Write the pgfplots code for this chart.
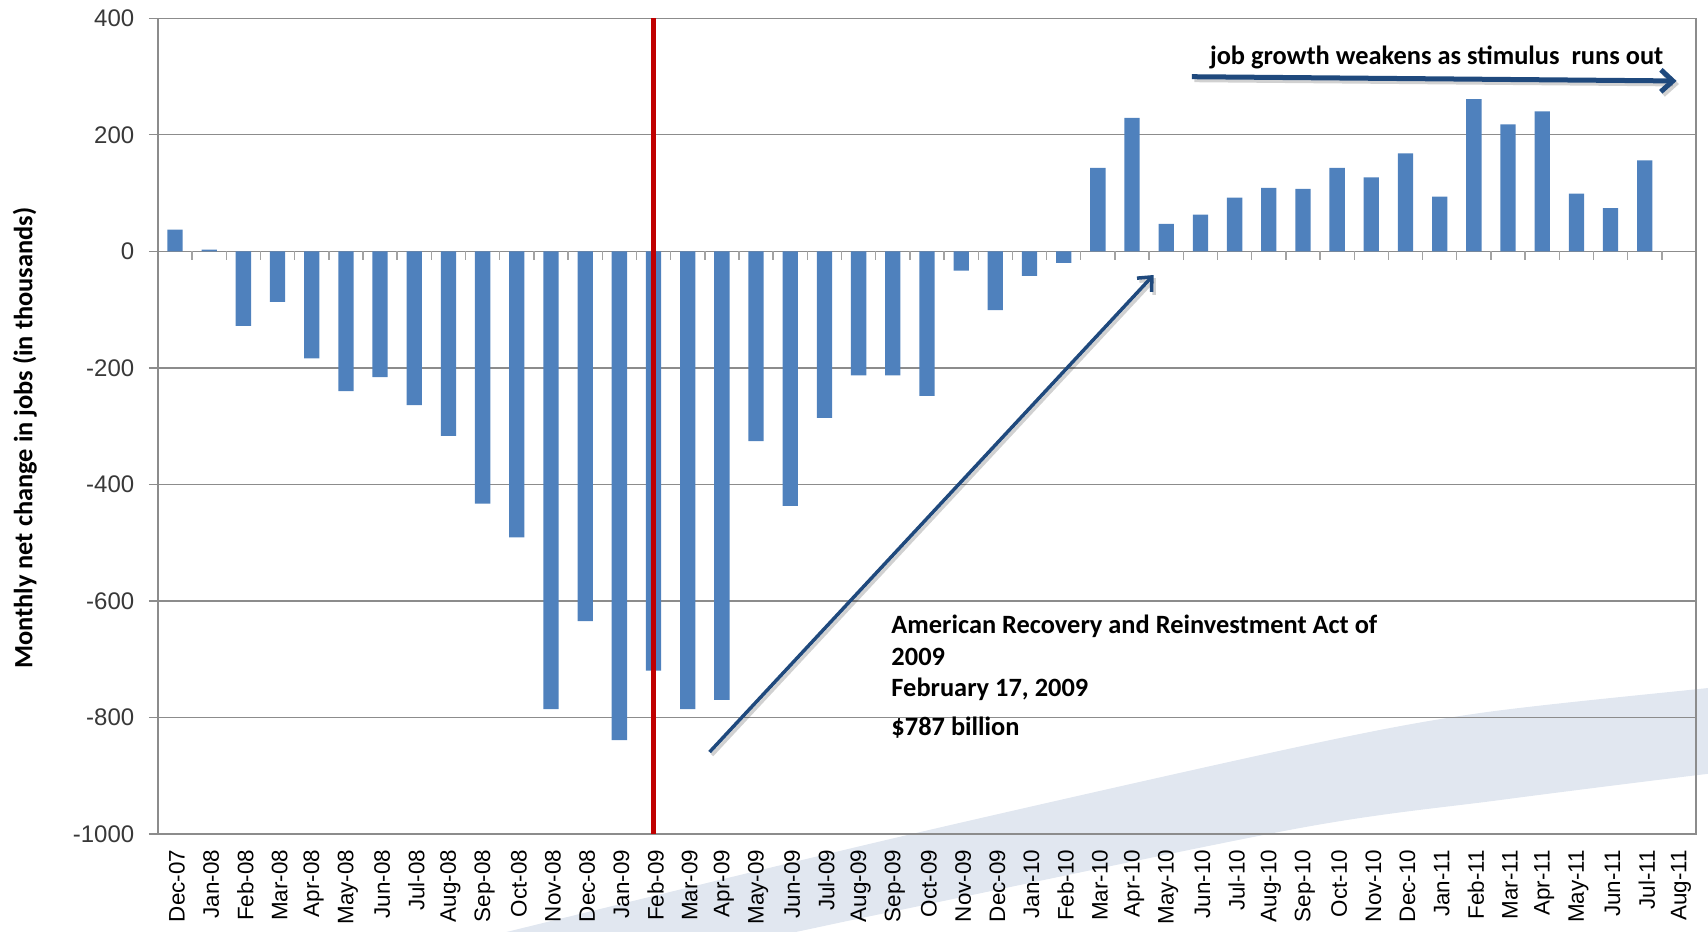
\documentclass[border=0pt]{standalone}
\usepackage{pgfplots}
\pgfplotsset{compat=1.18}
\usepackage{pgfplotstable}
\usepackage{fontspec}
\setmainfont{Liberation Sans}
\newfontfamily\calibri{Carlito}
\usetikzlibrary{arrows.meta}
\definecolor{barblue}{RGB}{79,129,189}
\definecolor{gridgray}{RGB}{140,140,140}
\definecolor{redline}{RGB}{192,0,0}
\definecolor{arrowblue}{RGB}{31,73,125}
\definecolor{swoosh}{RGB}{225,231,240}

\pgfplotstableread{
idx val
0 37
1 3
2 -128
3 -87
4 -184
5 -240
6 -216
7 -264
8 -317
9 -433
10 -491
11 -786
12 -635
13 -839
14 -720
15 -786
16 -770
17 -326
18 -437
19 -286
20 -213
21 -213
22 -248
23 -33
24 -101
25 -42
26 -20
27 143
28 229
29 47
30 63
31 92
32 109
33 107
34 143
35 127
36 168
37 94
38 261
39 218
40 240
41 99
42 74
43 156
}\jobdata

\begin{document}
\begin{tikzpicture}
\begin{axis}[
  set layers=standard,
  width=769pt, height=407.75pt, scale only axis,
  xmin=-0.5, xmax=44.5, ymin=-1000, ymax=400,
  enlargelimits=false, clip=false,
  axis line style={gridgray, line width=0.7pt},
  ymajorgrids, grid style={gridgray, line width=0.7pt},
  ytick={-1000,-800,-600,-400,-200,0,200,400},
  yticklabels={-1000,-800,-600,-400,-200,0,200,400},
  ytick pos=left, xtick pos=bottom,
  tick align=outside, major tick length=4.5pt,
  ytick style={gridgray, line width=0.7pt},
  xtick style={draw=none},
  yticklabel style={font=\fontsize{12}{14}\selectfont, text=black!78, anchor=east, xshift=-3.8pt},
  xtick={0,...,44},
  xticklabels={Dec-07,Jan-08,Feb-08,Mar-08,Apr-08,May-08,Jun-08,Jul-08,Aug-08,Sep-08,Oct-08,Nov-08,Dec-08,Jan-09,Feb-09,Mar-09,Apr-09,May-09,Jun-09,Jul-09,Aug-09,Sep-09,Oct-09,Nov-09,Dec-09,Jan-10,Feb-10,Mar-10,Apr-10,May-10,Jun-10,Jul-10,Aug-10,Sep-10,Oct-10,Nov-10,Dec-10,Jan-11,Feb-11,Mar-11,Apr-11,May-11,Jun-11,Jul-11,Aug-11},
  xticklabel style={font=\fontsize{11.2}{13}\selectfont, rotate=90, anchor=east, text=black, yshift=-1pt},
  ylabel={\calibri\bfseries\fontsize{13.2}{15}\selectfont Monthly net change in jobs (in thousands)},
  ylabel style={at={(axis description cs:-0.0865,0.485)}, anchor=center},
]
% background swoosh
\addplot[on layer=axis background, fill=swoosh, draw=none, smooth, tension=0.5, forget plot] coordinates {
 (6,-1225) (9.80,-1167) (21.21,-1005) (32.91,-850) (38.18,-792.6) (44.85,-749.7) (47,-737)
 (47,-885) (44.85,-897) (38.76,-942) (32.91,-990) (21.21,-1130.8) (18.28,-1167) (13.6,-1225)
} -- cycle;

\addplot[ybar, bar width=7.65pt, fill=barblue, draw=none, forget plot] table[x=idx, y=val] {\jobdata};

\addplot[redline, line width=2.5pt, forget plot] coordinates {(14,-1000) (14,400)};

% category tick marks on the zero line
\pgfplotsinvokeforeach{0.5,1.5,...,43.5}{
  \draw[gridgray!80, line width=0.7pt] (axis cs:#1,0) -- (axis cs:#1,-15);
}

% arrows with soft shadow
\draw[black, opacity=0.18, line width=1.75pt, -{Straight Barb[length=5.5pt,width=10pt]}]
  ([xshift=1.2pt,yshift=-1.5pt]axis cs:15.64,-859.6) -- ([xshift=1.2pt,yshift=-1.5pt]axis cs:28.63,-40.7);
\draw[arrowblue, line width=1.75pt, -{Straight Barb[length=5.5pt,width=10pt]}]
  (axis cs:15.64,-859.6) -- (axis cs:28.63,-40.7);

\draw[black, opacity=0.18, line width=2.5pt, -{Straight Barb[length=6pt,width=11pt]}]
  ([xshift=1.2pt,yshift=-1.5pt]axis cs:29.75,299.7) -- ([xshift=1.2pt,yshift=-1.5pt]axis cs:43.93,292.4);
\draw[arrowblue, line width=2.5pt, -{Straight Barb[length=6pt,width=11pt]}]
  (axis cs:29.75,299.7) -- (axis cs:43.93,292.4);

% annotations
\node[anchor=base west, inner sep=0pt, font=\calibri\bfseries\fontsize{13.2}{15}\selectfont] at (axis cs:30.27,319.8) {job growth weakens as stimulus\ \ runs out};
\node[anchor=base west, inner sep=0pt, font=\calibri\bfseries\fontsize{13.2}{15}\selectfont] at (axis cs:20.95,-655.8) {American Recovery and Reinvestment Act of};
\node[anchor=base west, inner sep=0pt, font=\calibri\bfseries\fontsize{13.2}{15}\selectfont] at (axis cs:20.95,-710.2) {2009};
\node[anchor=base west, inner sep=0pt, font=\calibri\bfseries\fontsize{13.2}{15}\selectfont] at (axis cs:20.95,-764.6) {February 17, 2009};
\node[anchor=base west, inner sep=0pt, font=\calibri\bfseries\fontsize{13.2}{15}\selectfont] at (axis cs:20.95,-830.4) {\$787 billion};

\coordinate (BBsw) at (axis cs:-5.12,-1166.9);
\coordinate (BBne) at (axis cs:44.85,431.4);
\end{axis}
\pgfresetboundingbox
\useasboundingbox (BBsw) rectangle (BBne);
\end{tikzpicture}
\end{document}
